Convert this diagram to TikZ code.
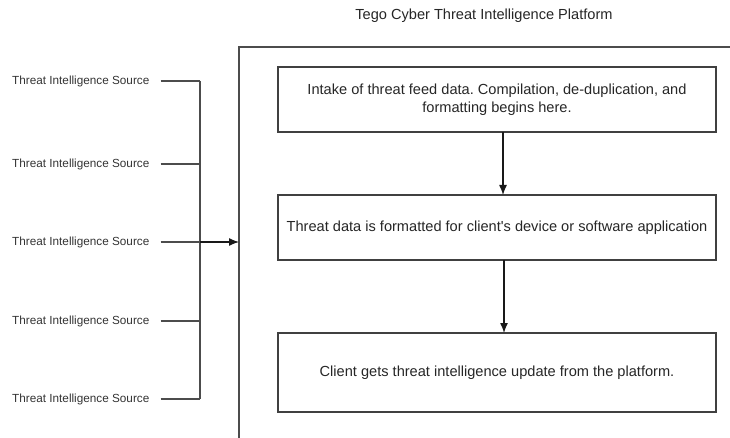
\documentclass[tikz,border=0pt]{standalone}
\usepackage{fontspec}
\setmainfont{Liberation Sans}
\usetikzlibrary{arrows.meta}
\frenchspacing
\begin{document}
\begin{tikzpicture}[x=1pt,y=-1pt,
  src/.style={anchor=west,inner sep=0pt,font=\fontsize{11.75}{13}\selectfont,text=black!80},
  stepbox/.style={draw=black!75,line width=1.4pt,minimum width=438pt,inner sep=0pt,align=center,font=\fontsize{14.6}{18}\selectfont,text=black!85},
  bus/.style={draw=black!70,line width=1.3pt},
  arr/.style={draw=black!90,line width=1.3pt,-{Latex[length=10pt,width=8pt]}}]
\useasboundingbox (0,0) rectangle (730,438);
% platform frame
\coordinate (fb) at (239,440);
\coordinate (ft) at (239,47);
\coordinate (fr) at (732,47);
\draw[draw=black!70,line width=1.5pt] (fb) -- (ft) -- (fr);
\node[font=\fontsize{14.6}{17}\selectfont,text=black!85] (title) at (484,16) {Tego Cyber Threat Intelligence Platform};
% steps
\node[stepbox,minimum height=65pt] (s1) at (497,99.5) {Intake of threat feed data. Compilation, de-duplication, and\\formatting begins here.};
\node[stepbox,minimum height=65pt] (s2) at (497,227.5) {Threat data is formatted for client\textquotesingle s device or software application};
\node[stepbox,minimum height=79pt] (s3) at (497,372.5) {Client gets threat intelligence update from the platform.};
\draw[arr] (503,132) -- (503,195);
\draw[arr] (504,260) -- (504,333);
% sources
\foreach \i/\y in {1/81,2/164,3/242,4/321,5/399}{
  \node[src] (t\i) at (12,\y) {Threat Intelligence Source};
  \coordinate (b\i) at (200,\y);
  \draw[bus] (t\i.east) ++(11pt,0) -- (b\i);
}
\draw[bus] (b1) -- (b5);
\coordinate (in) at (239,242);
\draw[arr] (b3) -- (in);
\end{tikzpicture}
\end{document}
